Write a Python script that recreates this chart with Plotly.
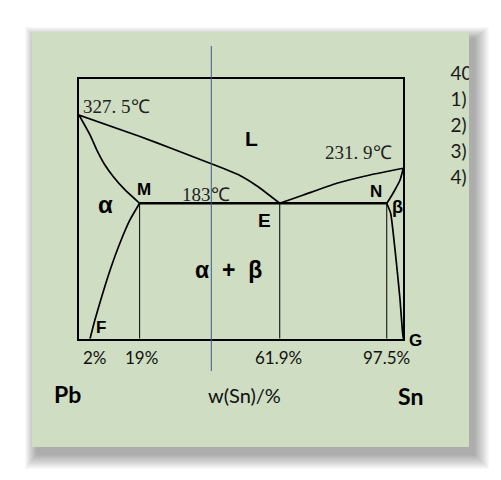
import plotly.graph_objects as go

# page body has an 8px margin, so the figure is made smaller and shifted
OFF = 8
W, H = 501 - OFF, 480 - OFF

# ---------------- data (composition w(Sn) %, temperature °C, as drawn) -------------
liq_left_x = [0, 18.8, 29.0, 41.0, 49.6, 54.9, 61.9]
liq_left_t = [327.5, 292.3, 271.9, 247.3, 228.5, 211.3, 183]

sol_left_x = [0, 3.4, 5.5, 8.0, 10.6, 14.2, 18.7]
sol_left_t = [327.5, 294.8, 270.2, 245.7, 226.5, 204.8, 183]

solv_left_x = [18.7, 15.7, 12.6, 9.6, 7.0, 4.9, 3.4]
solv_left_t = [183, 155.7, 117.5, 73.8, 30.1, -8.0, -38.6]

liq_right_x = [61.9, 69.2, 79.5, 89.7, 100]
liq_right_t = [183, 196.6, 215.7, 229.3, 240.3]

sol_right_x = [94.9, 95.9, 97.4, 99.0, 100]
sol_right_t = [183, 191.2, 204.8, 221.1, 240.3]

solv_right_x = [94.9, 96.1, 96.9, 98.0, 99.0, 99.7, 100]
solv_right_t = [183, 166.6, 133.9, 79.2, 24.7, -24.4, -38.6]

eutectic_x = [18.7, 94.9]
eutectic_t = [183, 183]

vertical_x = [18.7, 61.9, 94.9]     # M, E, N
T_MIN, T_MAX = -38.6, 386.4
alloy_x = 40.8                      # blue vertical marker line

comp_labels = ["2%", "19%", "61.9%", "97.5%"]
side_items = ["40", "1)", "2)", "3)", "4)"]

# ---------------- helpers (screen pixel -> paper) ---------------------------------
def px(x):
    return (x - OFF) / W

def py(y):
    return 1 - (y - OFF) / H

fig = go.Figure()
for xs, ts in [(liq_left_x, liq_left_t), (sol_left_x, sol_left_t),
               (solv_left_x, solv_left_t), (liq_right_x, liq_right_t),
               (sol_right_x, sol_right_t), (solv_right_x, solv_right_t)]:
    fig.add_trace(go.Scatter(x=xs, y=ts, mode="lines",
                             line=dict(color="black", width=1.7, shape="spline", smoothing=0.5),
                             hoverinfo="skip", showlegend=False))
fig.add_trace(go.Scatter(x=eutectic_x, y=eutectic_t, mode="lines",
                         line=dict(color="black", width=2.5),
                         hoverinfo="skip", showlegend=False))
for vx in vertical_x:
    fig.add_trace(go.Scatter(x=[vx, vx], y=[183, T_MIN], mode="lines",
                             line=dict(color="black", width=1),
                             hoverinfo="skip", showlegend=False))

# side text, cut off by the panel edge
fig.add_trace(go.Scatter(x=[450.5] * len(side_items),
                         y=[75, 100.8, 127.5, 153.3, 179.5],
                         mode="text", text=side_items, textposition="middle right",
                         textfont=dict(family="Lato, Liberation Sans, sans-serif",
                                       size=19, color="#1a1a1a"),
                         cliponaxis=True, xaxis="x2", yaxis="y2",
                         hoverinfo="skip", showlegend=False))

# ---------------- panel background & shadow ---------------------------------------
shapes = []
ox, oy = 5, 7
for b in range(15, 0, -1):
    shapes.append(dict(type="rect", xref="paper", yref="paper", layer="below",
                       x0=px(32 + ox - b * 0.8), x1=px(469 + ox + b),
                       y0=py(447 + oy + b), y1=py(32 + oy - b * 0.8),
                       line=dict(width=0), fillcolor="rgba(0,0,0,0.022)"))
shapes.append(dict(type="rect", xref="paper", yref="paper", layer="below",
                   x0=px(32), x1=px(469), y0=py(447), y1=py(32),
                   line=dict(width=0), fillcolor="#CFDDC2"))
shapes.append(dict(type="line", xref="x", yref="paper", layer="above",
                   x0=alloy_x, x1=alloy_x, y0=py(371), y1=py(46),
                   line=dict(color="#3E5C8C", width=1)))

# ---------------- annotations ----------------------------------------------------
serif = "Liberation Serif, Times New Roman, serif"
sans = "Lato, Liberation Sans, sans-serif"
arial = "Liberation Sans, Arial, sans-serif"
narrow = "Liberation Sans Narrow, Arial Narrow, Liberation Sans, sans-serif"

def ann(text, x, y, size, family, color="black", bold=False):
    t = f"<b>{text}</b>" if bold else text
    return dict(text=t, x=px(x), y=py(y), xref="paper", yref="paper",
                xanchor="center", yanchor="middle", showarrow=False,
                font=dict(family=family, size=size, color=color))

annotations = [
    ann("327. 5℃", 116, 106, 19, serif, "#222"),
    ann("231. 9℃", 358, 152, 19, serif, "#222"),
    ann("183℃", 205.5, 195, 19, serif, "#222"),
    ann("L", 251.3, 138.5, 21, arial, bold=True),
    ann("M", 144, 189.5, 17, narrow, bold=True),
    ann("α", 105.3, 204, 24, arial, bold=True),
    ann("E", 264.7, 220.5, 19, arial, bold=True),
    ann("α\u00a0\u00a0+\u00a0\u00a0β", 228.8, 270, 23, arial, bold=True),
    ann("N", 375.8, 191.7, 17, narrow, bold=True),
    ann("β", 397, 207, 18, arial, bold=True),
    ann("F", 101.3, 327.5, 17, narrow, bold=True),
    ann("G", 415, 340.8, 17, narrow, bold=True),
    ann("w(Sn)/%", 244.5, 395, 20, sans, "#111"),
    ann("Pb", 67.8, 394, 23, sans, bold=True),
    ann("Sn", 410.5, 396, 23, sans, bold=True),
]
for lab, cx in zip(comp_labels, [95, 141.7, 278.8, 386.2]):
    annotations.append(ann(lab, cx, 357.5, 17, sans, "#111"))

fig.update_layout(
    width=W, height=H, margin=dict(l=0, r=0, t=0, b=0),
    paper_bgcolor="white", plot_bgcolor="rgba(0,0,0,0)",
    shapes=shapes, annotations=annotations, showlegend=False,
    xaxis=dict(domain=[px(79), px(403.3)], range=[0, 100], showgrid=False,
               zeroline=False, showticklabels=False, ticks="",
               showline=True, mirror=True, linecolor="black", linewidth=2),
    yaxis=dict(domain=[py(338.7), py(79)], range=[T_MIN, T_MAX], showgrid=False,
               zeroline=False, showticklabels=False, ticks="",
               showline=True, mirror=True, linecolor="black", linewidth=2),
    xaxis2=dict(domain=[0, px(469)], range=[OFF, 469], anchor="y2", visible=False),
    yaxis2=dict(domain=[0, 1], range=[480, OFF], anchor="x2", visible=False),
)

fig.write_html("out.html")
